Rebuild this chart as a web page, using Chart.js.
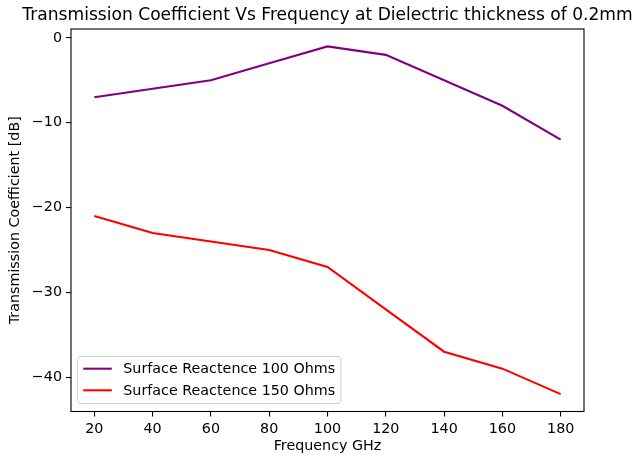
<!DOCTYPE html>
<html>
<head>
<meta charset="utf-8">
<script src="https://cdn.jsdelivr.net/npm/chart.js@4"></script>
<style>
  html, body { margin: 0; padding: 0; background: #fff; }
  #wrap { width: 634px; height: 460px; }
</style>
</head>
<body>
<div id="wrap"><canvas id="grafico" width="634" height="460"></canvas></div>
<script>
// datos
const frecuencias = [20, 40, 60, 80, 100, 120, 140, 160, 180];
const reactancia100 = [-7, -6, -5, -3, -1, -2, -5, -8, -12];
const reactancia150 = [-21, -23, -24, -25, -27, -32, -37, -39, -42];
const ticksX = [20, 40, 60, 80, 100, 120, 140, 160, 180];
const ticksY = [0, -10, -20, -30, -40];
const titulo = 'Transmission Coefficient Vs Frequency at Dielectric thickness of 0.2mm';

const FUENTE = 'DejaVu Sans';
const TAM = 14.3;
const menos = v => String(v).replace('-', '\u2212');

// titulo centrado sobre los ejes, como matplotlib
const tituloEjes = {
    id: 'tituloEjes',
    afterDraw(chart) {
        const { ctx, chartArea: a } = chart;
        ctx.save();
        ctx.font = '17.1px "' + FUENTE + '"';
        ctx.fillStyle = '#000';
        ctx.textAlign = 'center';
        ctx.textBaseline = 'alphabetic';
        ctx.fillText(titulo, (a.left + a.right) / 2, a.top - 9);
        ctx.restore();
    },
};

// caja alrededor del area de datos
const cajaEjes = {
    id: 'cajaEjes',
    afterDatasetsDraw(chart) {
        const { ctx, chartArea: a } = chart;
        ctx.save();
        ctx.strokeStyle = '#000';
        ctx.lineWidth = 1.1;
        ctx.strokeRect(a.left, a.top, a.right - a.left, a.bottom - a.top);
        ctx.restore();
    },
};

// leyenda dentro del grafico, abajo a la izquierda
const leyendaInterna = {
    id: 'leyendaInterna',
    afterDraw(chart) {
        const { ctx, chartArea: a } = chart;
        const sets = chart.data.datasets;
        const x0 = a.left + 6.5, y1 = a.bottom - 8;
        const alto = 47, filaH = 21.6;
        const pad = 0.4 * TAM, largo = 2 * TAM, sep = 0.8 * TAM;
        ctx.save();
        ctx.font = TAM + 'px "' + FUENTE + '"';
        let ancho = 0;
        sets.forEach(d => { ancho = Math.max(ancho, ctx.measureText(d.label).width); });
        const w = pad + largo + sep + ancho + pad;
        const y0 = y1 - alto;
        ctx.beginPath();
        ctx.roundRect(x0, y0, w, alto, 3);
        ctx.fillStyle = 'rgba(255,255,255,0.8)';
        ctx.fill();
        ctx.strokeStyle = 'rgba(204,204,204,0.9)';
        ctx.lineWidth = 1;
        ctx.stroke();
        sets.forEach((d, i) => {
            const cy = y0 + 12.2 + i * filaH;
            ctx.beginPath();
            ctx.moveTo(x0 + pad, cy);
            ctx.lineTo(x0 + pad + largo, cy);
            ctx.strokeStyle = d.borderColor;
            ctx.lineWidth = 2.08;
            ctx.stroke();
            ctx.fillStyle = '#000';
            ctx.textBaseline = 'middle';
            ctx.fillText(d.label, x0 + pad + largo + sep, cy + 1);
        });
        ctx.restore();
    },
};

new Chart(document.getElementById('grafico'), {
    type: 'line',
    data: {
        datasets: [
            {
                label: 'Surface Reactence 100 Ohms',
                data: frecuencias.map((f, i) => ({ x: f, y: reactancia100[i] })),
                borderColor: '#800080',
                borderWidth: 2.08,
                pointRadius: 0,
                tension: 0,
            },
            {
                label: 'Surface Reactence 150 Ohms',
                data: frecuencias.map((f, i) => ({ x: f, y: reactancia150[i] })),
                borderColor: '#ff0000',
                borderWidth: 2.08,
                pointRadius: 0,
                tension: 0,
            },
        ],
    },
    options: {
        responsive: false,
        animation: false,
        layout: { padding: { left: 0, right: 50, top: 29, bottom: 0 } },
        plugins: {
            legend: { display: false },
            tooltip: { enabled: false },
            title: { display: false },
        },
        scales: {
            x: {
                type: 'linear',
                min: 12,
                max: 188,
                afterBuildTicks: s => { s.ticks = ticksX.map(v => ({ value: v })); },
                afterFit: s => { s.height = 48.5; },
                grid: { display: true, drawOnChartArea: false, drawTicks: true, tickLength: 5, color: '#000', lineWidth: 1.1 },
                border: { display: false },
                ticks: {
                    color: '#000',
                    padding: 4,
                    maxRotation: 0,
                    autoSkip: false,
                    font: { family: FUENTE, size: TAM },
                    callback: v => menos(v),
                },
                title: {
                    display: true,
                    text: 'Frequency GHz',
                    color: '#000',
                    font: { family: FUENTE, size: TAM },
                    padding: { top: 0, bottom: 5 },
                },
            },
            y: {
                type: 'linear',
                min: -44.05,
                max: 1.05,
                afterBuildTicks: s => { s.ticks = ticksY.map(v => ({ value: v })); },
                afterFit: s => { s.width = 71; },
                grid: { display: true, drawOnChartArea: false, drawTicks: true, tickLength: 5, color: '#000', lineWidth: 1.1 },
                border: { display: false },
                ticks: {
                    color: '#000',
                    padding: 4,
                    autoSkip: false,
                    font: { family: FUENTE, size: TAM },
                    callback: v => menos(v),
                },
                title: {
                    display: true,
                    text: 'Transmission Coefficient [dB]',
                    color: '#000',
                    font: { family: FUENTE, size: TAM },
                    padding: { top: 7, bottom: 0 },
                },
            },
        },
    },
    plugins: [tituloEjes, cajaEjes, leyendaInterna],
});
</script>
</body>
</html>
